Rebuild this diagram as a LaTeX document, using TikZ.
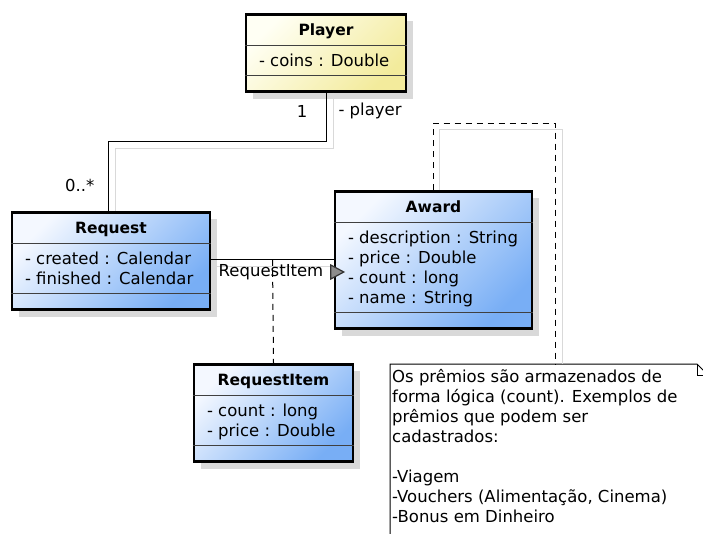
\documentclass[tikz,border=0pt]{standalone}
\usepackage{fontspec}
\setmainfont{DejaVu Sans}
\usetikzlibrary{shapes.multipart,shapes.geometric,shadows}
\definecolor{bluetop}{HTML}{F4F8FF}
\definecolor{bluebot}{HTML}{78AEF5}
\definecolor{yeltop}{HTML}{FFFFF4}
\definecolor{yelbot}{HTML}{F3EB9C}
\newcommand{\umlfont}{\fontsize{16.5}{20}\selectfont\lineskiplimit=-20pt}
\newcommand{\hdfont}{\fontsize{15.5}{20}\selectfont\bfseries}
\newcommand{\ustrut}{\rule[-4pt]{0pt}{20pt}}

\begin{document}
\begin{tikzpicture}[x=1pt,y=-1pt]
\useasboundingbox (0,0) rectangle (703,533);
\clip (0,0) rectangle (703,533);
\tikzstyle{every node}=[font=\umlfont];
\tikzstyle{umlclass}=[rectangle split, rectangle split parts=3, rectangle split draw splits=false,
  rectangle split part align={center,left,left}, rectangle split empty part height=1pt,
  align=left, anchor=north, draw, line width=2.6pt, inner xsep=13pt, inner ysep=4pt,
  top color=bluetop, bottom color=bluebot, shading angle=45,
  drop shadow={shadow xshift=7pt, shadow yshift=-7pt, fill=black!15, opacity=1}];
\tikzstyle{yelclass}=[top color=yeltop, bottom color=yelbot, shading angle=45];
\tikzstyle{sepline}=[draw=black!75, line width=0.8pt];
\tikzstyle{assoc}=[line width=1pt];
\tikzstyle{lineshadow}=[draw=black!15, line width=1pt];
\tikzstyle{notelink}=[line width=1pt, dash pattern=on 6pt off 5pt];
\tikzstyle{dirmark}=[isosceles triangle, isosceles triangle stretches, draw=black!80, fill=black!45,
  line width=1.2pt, inner sep=0pt, minimum width=14pt, minimum height=13pt];

\node[umlclass, yelclass, minimum width=160pt] (player) at (326,13)
  {\ustrut{\hdfont Player}\nodepart{two}\ustrut- coins : Double\nodepart{three}};
\node[umlclass, minimum width=198pt] (request) at (111,211)
  {\ustrut{\hdfont Request}\nodepart{two}\ustrut- created : Calendar\\\ustrut- finished : Calendar\nodepart{three}};
\node[umlclass, minimum width=197pt] (award) at (433.5,190)
  {\ustrut{\hdfont Award}\nodepart{two}\ustrut- description : String\\\ustrut- price : Double\\\ustrut- count : long\\\ustrut- name : String\nodepart{three}};
\node[umlclass, minimum width=159pt] (reqitem) at (273.5,363)
  {\ustrut{\hdfont RequestItem}\nodepart{two}\ustrut- count : long\\\ustrut- price : Double\nodepart{three}};
\foreach \c in {player,request,award,reqitem}{
  \draw[sepline] (\c.text split west) -- (\c.text split east);
  \draw[sepline] (\c.two split west) -- (\c.two split east);
}

\node[anchor=north west, align=left, inner sep=2pt] (note) at (390,364)
  {\ustrut Os prêmios são armazenados de\\\ustrut forma lógica (count). Exemplos de\\\ustrut prêmios que podem ser\\\ustrut cadastrados:\\\ustrut\\\ustrut-Viagem\\\ustrut-Vouchers (Alimentação, Cinema)\\\ustrut-Bonus em Dinheiro};
\draw[line width=1pt] ([yshift=-300pt]note.north west) -- (note.north west) -- ++(307,0) -- ++(11,11) -- ++(0,300);
\draw[line width=1pt] ([xshift=307pt]note.north west) -- ++(0,11) -- ++(11,0);

\draw[lineshadow] ([xshift=7pt]player.south) -- ++(0,56) -| ([xshift=4pt]request.north);
\draw[assoc] (player.south) -- ++(0,49) -| ([xshift=-3pt]request.north);
\node[anchor=east] (onelbl) at (311,111) {1};
\node[anchor=west] (rolelbl) at (335,111) {- player};
\node[anchor=east] (manylbl) at (98,185) {0..*};

\draw[lineshadow] ([yshift=-6pt]request.east) -- ([yshift=-6pt]request.east -| award.west);
\draw[assoc] ([yshift=1pt]request.east) -- ([yshift=1pt]request.east -| award.west) coordinate[pos=0.5] (assocmid);
\draw[notelink] (assocmid) -- (reqitem.north);
\node (assoclbl) at (271,272) {RequestItem};
\node[dirmark] (dirmk) at (335,272) {};

\draw[lineshadow] ([xshift=6pt]award.north) -- ++(0,-61) -| ([xshift=172pt]note.north west);
\draw[notelink] (award.north) -- ++(0,-67) -| ([xshift=165pt]note.north west);
\end{tikzpicture}
\end{document}
